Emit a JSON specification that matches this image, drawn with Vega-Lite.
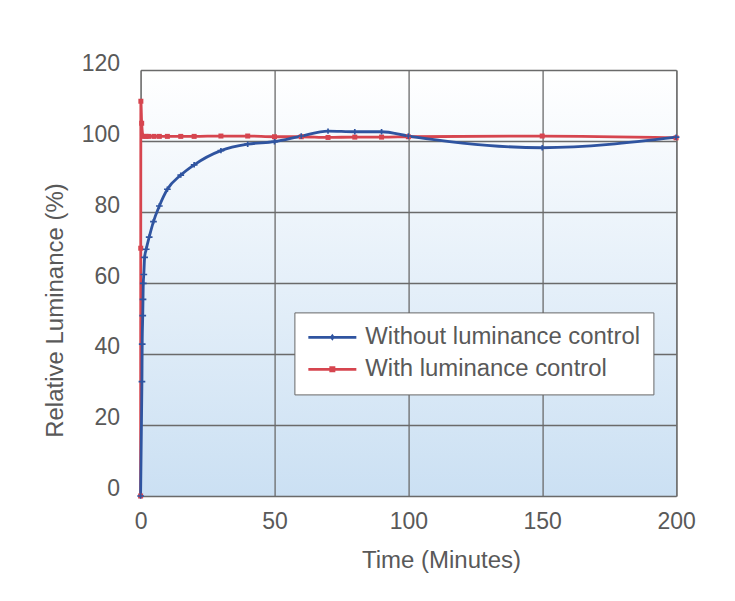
{
  "$schema": "https://vega.github.io/schema/vega-lite/v6.json",
  "width": 535.5,
  "height": 426,
  "autosize": {"type": "none"},
  "padding": {"left": 140.6, "top": 70, "right": 59, "bottom": 105},
  "background": "white",
  "config": {
    "font": "Liberation Sans",
    "view": {
      "stroke": "#777777",
      "strokeWidth": 1,
      "fill": {"gradient": "linear", "x1": 0, "y1": 0, "x2": 0, "y2": 1,
        "stops": [{"offset": 0, "color": "#ffffff"}, {"offset": 1, "color": "#cbe0f3"}]}
    },
    "axis": {
      "grid": true,
      "gridColor": "#6a6a6a",
      "gridWidth": 1.3,
      "domain": false,
      "ticks": false,
      "labelFlush": false,
      "labelFontSize": 23,
      "labelColor": "#595959",
      "titleFontSize": 24,
      "titleFontWeight": "normal",
      "titleColor": "#595959"
    }
  },
  "data": {
    "values": [
      {"series": "With luminance control", "t": 0, "v": 0},
      {"series": "With luminance control", "t": 0.05, "v": 69.8},
      {"series": "With luminance control", "t": 0.1, "v": 111.2},
      {"series": "With luminance control", "t": 0.4, "v": 105},
      {"series": "With luminance control", "t": 1, "v": 101.3},
      {"series": "With luminance control", "t": 2, "v": 101.3},
      {"series": "With luminance control", "t": 3, "v": 101.3},
      {"series": "With luminance control", "t": 5, "v": 101.3},
      {"series": "With luminance control", "t": 7, "v": 101.3},
      {"series": "With luminance control", "t": 10, "v": 101.3},
      {"series": "With luminance control", "t": 15, "v": 101.3},
      {"series": "With luminance control", "t": 20, "v": 101.3},
      {"series": "With luminance control", "t": 30, "v": 101.4},
      {"series": "With luminance control", "t": 40, "v": 101.4},
      {"series": "With luminance control", "t": 50, "v": 101.2},
      {"series": "With luminance control", "t": 60, "v": 101.2},
      {"series": "With luminance control", "t": 70, "v": 101.0},
      {"series": "With luminance control", "t": 80, "v": 101.1},
      {"series": "With luminance control", "t": 90, "v": 101.1},
      {"series": "With luminance control", "t": 100, "v": 101.2},
      {"series": "With luminance control", "t": 150, "v": 101.4},
      {"series": "With luminance control", "t": 200, "v": 100.9},
      {"series": "Without luminance control", "t": 0, "v": 0},
      {"series": "Without luminance control", "t": 0.5, "v": 32.2},
      {"series": "Without luminance control", "t": 0.6, "v": 42.8},
      {"series": "Without luminance control", "t": 0.8, "v": 50.8},
      {"series": "Without luminance control", "t": 0.9, "v": 55.4},
      {"series": "Without luminance control", "t": 1.0, "v": 59.9},
      {"series": "Without luminance control", "t": 1.2, "v": 62.4},
      {"series": "Without luminance control", "t": 1.5, "v": 67.2},
      {"series": "Without luminance control", "t": 2.1, "v": 69.5},
      {"series": "Without luminance control", "t": 3.2, "v": 72.9},
      {"series": "Without luminance control", "t": 4.8, "v": 77.3},
      {"series": "Without luminance control", "t": 7, "v": 81.7},
      {"series": "Without luminance control", "t": 10, "v": 86.4},
      {"series": "Without luminance control", "t": 15, "v": 90.4},
      {"series": "Without luminance control", "t": 20, "v": 93.3},
      {"series": "Without luminance control", "t": 30, "v": 97.3},
      {"series": "Without luminance control", "t": 40, "v": 99.1},
      {"series": "Without luminance control", "t": 50, "v": 99.8},
      {"series": "Without luminance control", "t": 60, "v": 101.4},
      {"series": "Without luminance control", "t": 70, "v": 102.8},
      {"series": "Without luminance control", "t": 80, "v": 102.6},
      {"series": "Without luminance control", "t": 90, "v": 102.6},
      {"series": "Without luminance control", "t": 100, "v": 101.4},
      {"series": "Without luminance control", "t": 150, "v": 98.1},
      {"series": "Without luminance control", "t": 200, "v": 101.1}
    ]
  },
  "encoding": {
    "x": {
      "field": "t", "type": "quantitative",
      "scale": {"domain": [0, 200], "nice": false},
      "axis": {"values": [0, 50, 100, 150, 200], "title": "Time (Minutes)", "labelPadding": 15,
        "titleX": 300.4, "titleY": 65, "titleBaseline": "middle"}
    },
    "y": {
      "field": "v", "type": "quantitative",
      "scale": {"domain": [0, 120], "nice": false},
      "axis": {"values": [0, 20, 40, 60, 80, 100, 120], "title": "Relative Luminance (%)", "labelPadding": 21,
        "labelOffset": -7, "titleX": -84.6, "titleY": 240, "titleBaseline": "middle", "titleAngle": -90}
    },
    "color": {
      "field": "series", "type": "nominal",
      "scale": {"domain": ["Without luminance control", "With luminance control"], "range": ["#2f54a0", "#d6454f"]}
    }
  },
  "layer": [
    {
      "mark": {"type": "line", "interpolate": "monotone", "strokeWidth": 2.8},
      "encoding": {
        "color": {
          "field": "series", "type": "nominal",
          "legend": {
            "title": null,
            "orient": "none",
            "legendX": 153.8,
            "legendY": 242.4,
            "fillColor": "white",
            "strokeColor": "#666666",
            "padding": 13,
            "labelFontSize": 23.9,
            "labelColor": "#595959",
            "labelLimit": 0,
            "labelOffset": 34,
            "rowPadding": 7,
            "symbolSize": 100,
            "symbolStrokeWidth": 0,
            "encode": {
              "symbols": {
                "update": {
                  "fill": {"scale": "color", "field": "value"},
                  "strokeWidth": {"value": 0},
                  "shape": {"signal": "datum.value === 'With luminance control' ? 'M-2.2,-0.27H7.4V0.27H-2.2Z M2,-0.6H3.2V0.6H2Z' : 'M-2.2,-0.27H7.4V0.27H-2.2Z M2.6,-0.7L3.1,0L2.6,0.7L2.1,0Z'"}
                }
              }
            }
          }
        }
      }
    },
    {
      "transform": [{"filter": "datum.series === 'With luminance control'"}],
      "mark": {"type": "point", "filled": true, "opacity": 1, "shape": "square", "size": 25},
      "encoding": {"color": {"field": "series", "type": "nominal", "legend": null}}
    },
    {
      "transform": [{"filter": "datum.series === 'Without luminance control'"}],
      "mark": {"type": "point", "filled": true, "opacity": 1, "shape": "M-1,-0.25H1V0.25H-1Z M-0.25,-0.8H0.25V0.8H-0.25Z", "size": 45},
      "encoding": {"color": {"field": "series", "type": "nominal", "legend": null}}
    }
  ]
}
